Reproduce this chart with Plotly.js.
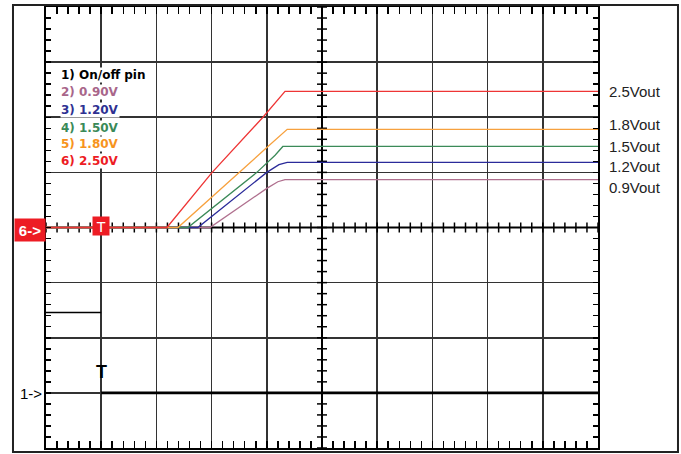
<!DOCTYPE html>
<html><head><meta charset="utf-8">
<script src="https://cdn.plot.ly/plotly-3.0.1.min.js"></script>
<style>html,body{margin:0;padding:0;background:#fff}</style>
</head><body><div id="chart" style="width:681px;height:454px"></div>
<script>
// Channel data (x in divisions 0..10, y in divisions -4..4)
const ch1X = [0, 1, 1, 10];
const ch1Y = [-1.54, -1.54, -3.0, -3.0];
const ch2X = [0, 2.97, 4.0, 4.20, 4.33, 10];
const ch2Y = [0, 0, 0.71, 0.83, 0.87, 0.87];
const ch3X = [0, 2.75, 4.0, 4.22, 4.37, 10];
const ch3Y = [0, 0, 1.0, 1.14, 1.18, 1.18];
const ch4X = [0, 2.57, 3.82, 4.15, 4.29, 10];
const ch4Y = [0, 0, 1.0, 1.31, 1.47, 1.47];
const ch5X = [0, 2.39, 4.0, 4.37, 10];
const ch5Y = [0, 0, 1.45, 1.78, 1.78];
const ch6X = [0, 2.19, 3.01, 3.93, 4.33, 10];
const ch6Y = [0, 0, 1.0, 2.0, 2.47, 2.47];

const legendLabels = ["1) On/off pin", "2) 0.90V", "3) 1.20V", "4) 1.50V", "5) 1.80V", "6) 2.50V"];
const voutLabels = ["2.5Vout", "1.8Vout", "1.5Vout", "1.2Vout", "0.9Vout"];

const colors = {c1:'#000000', c2:'#b0708f', c3:'#2b2b9a', c4:'#3b8a58', c5:'#f7a13e', c6:'#ee3535'};
const textColors = ['#000000', '#a8668a', '#2e3192', '#3a8a58', '#f7941d', '#ed1c24'];
const legendY = [2.76, 2.45, 2.14, 1.81, 1.51, 1.20];
const voutY = [2.47, 1.87, 1.47, 1.11, 0.73];

const font = "Liberation Sans, Arial, sans-serif";
const boldFont = "DejaVu Sans, Verdana, sans-serif";

function tr(x, y, c, w) {
  return {x: x, y: y, type: 'scatter', mode: 'lines', line: {color: c, width: w}, hoverinfo: 'skip', showlegend: false};
}
const data = [
  tr(ch1X.slice(0, 2), ch1Y.slice(0, 2), colors.c1, 1.5),
  tr(ch1X.slice(2), ch1Y.slice(2), colors.c1, 2.6),
  tr(ch2X, ch2Y, colors.c2, 1.3),
  tr(ch3X, ch3Y, colors.c3, 1.3),
  tr(ch4X, ch4Y, colors.c4, 1.3),
  tr(ch5X, ch5Y, colors.c5, 1.3),
  tr(ch6X, ch6Y, colors.c6, 1.3)
];

const shapes = [];
// center cross lines
shapes.push({type:'line', xref:'x', yref:'y', x0:0, x1:10, y0:0, y1:0, line:{color:'#000', width:2}, layer:'between'});
shapes.push({type:'line', xref:'x', yref:'y', x0:5, x1:5, y0:-4, y1:4, line:{color:'#000', width:2}, layer:'between'});
for (let i = 0; i <= 50; i++) {
  const t = i * 0.2;
  shapes.push({type:'line', xref:'x', yref:'y', ysizemode:'pixel', yanchor:0, x0:t, x1:t, y0:-5, y1:5, line:{color:'#000', width:1.5}, layer:'between'});
}
for (let i = 0; i <= 40; i++) {
  const t = -4 + i * 0.2;
  shapes.push({type:'line', xref:'x', yref:'y', xsizemode:'pixel', xanchor:5, y0:t, y1:t, x0:-5, x1:5, line:{color:'#000', width:1.5}, layer:'between'});
}
// outer frame
shapes.push({type:'rect', xref:'paper', yref:'paper', x0:-0.0598, x1:1.1449, y0:-0.009, y1:1.0045, line:{color:'#222', width:2}, layer:'above'});

const annotations = [];
legendLabels.forEach((t, i) => {
  annotations.push({xref:'x', yref:'y', x:0.25, y:legendY[i], xanchor:'left', yanchor:'middle', text:'<b>'+t+'</b>', showarrow:false,
    font:{family:boldFont, size:12, color:textColors[i]}, bgcolor:'#ffffff', borderpad:0});
});
voutLabels.forEach((t, i) => {
  annotations.push({xref:'paper', yref:'y', x:1.0163, y:voutY[i], xanchor:'left', yanchor:'middle', text:t, showarrow:false,
    font:{family:font, size:15, color:'#222'}});
});
annotations.push({xref:'paper', yref:'y', x:-0.029, y:-0.04, xanchor:'center', yanchor:'middle', text:'<b>6-></b>', showarrow:false,
  font:{family:font, size:15, color:'#fff'}, bgcolor:'#ed1c24', width:30, height:22, borderpad:0});
annotations.push({xref:'x', yref:'y', x:1.0, y:0.02, xanchor:'center', yanchor:'middle', text:'T', showarrow:false,
  font:{family:font, size:15, color:'#fff'}, bgcolor:'#ed1c24', width:16, height:18, borderpad:0});
annotations.push({xref:'paper', yref:'y', x:-0.028, y:-3.01, xanchor:'center', yanchor:'middle', text:'1->', showarrow:false,
  font:{family:font, size:15, color:'#000'}});
annotations.push({xref:'x', yref:'y', x:1.0, y:-2.62, xanchor:'center', yanchor:'middle', text:'<b>T</b>', showarrow:false,
  font:{family:font, size:18, color:'#000'}});

const layout = {
  width: 681, height: 454,
  margin: {l:46, r:83, t:7, b:6, pad:0},
  paper_bgcolor: '#fff', plot_bgcolor: '#fff',
  showlegend: false,
  xaxis: {range:[0,10], dtick:1, tick0:0, showgrid:true, gridcolor:'#333333', gridwidth:1.6, zeroline:false,
    showline:true, linecolor:'#000', linewidth:2, mirror:'ticks', ticks:'inside', ticklen:7, tickwidth:1.5, tickcolor:'#000',
    showticklabels:false, fixedrange:true,
    minor:{dtick:0.2, tick0:0, ticks:'inside', ticklen:7, tickwidth:1.5, tickcolor:'#000', showgrid:false}},
  yaxis: {range:[-4,4], dtick:1, tick0:0, showgrid:true, gridcolor:'#333333', gridwidth:1.6, zeroline:false,
    showline:true, linecolor:'#000', linewidth:2, mirror:'ticks', ticks:'inside', ticklen:5, tickwidth:1.5, tickcolor:'#000',
    showticklabels:false, fixedrange:true,
    minor:{dtick:0.2, tick0:0, ticks:'inside', ticklen:5, tickwidth:1.5, tickcolor:'#000', showgrid:false}},
  shapes: shapes,
  annotations: annotations
};
Plotly.newPlot('chart', data, layout, {displayModeBar:false, staticPlot:true});
</script>
</body></html>
